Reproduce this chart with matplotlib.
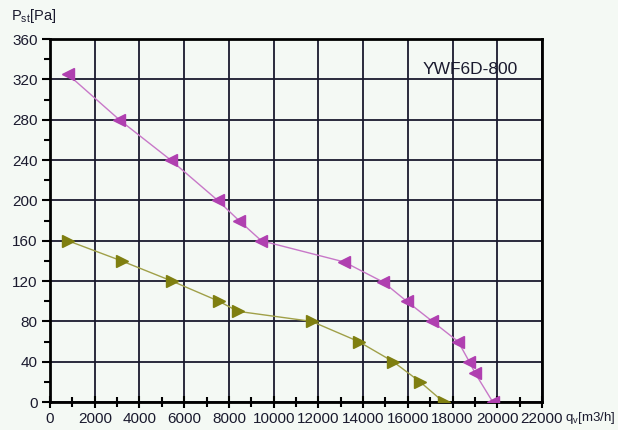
import matplotlib

matplotlib.use("Agg")

import matplotlib.pyplot as plt
from matplotlib.ticker import MultipleLocator

# fan curve data: airflow [m3/h] vs static pressure [Pa]
HIGH_Q = [800, 3100, 5400, 7500, 8450, 9450, 13150, 14900, 15950, 17100, 18250, 18750, 19000, 19800]
HIGH_P = [325, 280, 240, 200, 180, 160, 139, 119, 100, 80, 60, 40, 29, 0]
LOW_Q = [800, 3200, 5450, 7550, 8400, 11700, 13800, 15350, 16550, 17600]
LOW_P = [160, 140, 120, 100, 90, 80, 60, 40, 20, 0]
X_TICKS = list(range(0, 22001, 2000))
Y_TICKS = list(range(0, 361, 40))
MODEL = "YWF6D-800"

BG = "#f4f9f4"
GRID = "#1a1a2e"
TEXT = "#1a1a2e"

plt.rcParams["font.family"] = ["Liberation Sans", "DejaVu Sans"]

fig = plt.figure(figsize=(6.18, 4.30), dpi=100, facecolor=BG)
ax = fig.add_axes([0.081, 0.065, 0.796, 0.844], facecolor=BG)

ax.plot(HIGH_Q, HIGH_P, color="#c878c8", linewidth=1.0, marker="<",
        markersize=8, markerfacecolor="#b040b0", markeredgecolor="#b040b0", zorder=3)
ax.plot(LOW_Q, LOW_P, color="#a0a048", linewidth=1.0, marker=">",
        markersize=8, markerfacecolor="#7f7f10", markeredgecolor="#7f7f10", zorder=3)

ax.set_xlim(0, 22000)
ax.set_ylim(0, 360)
ax.set_xticks(X_TICKS)
ax.set_yticks(Y_TICKS)
ax.xaxis.set_minor_locator(MultipleLocator(1000))
ax.yaxis.set_minor_locator(MultipleLocator(20))
ax.grid(True, which="major", color=GRID, linewidth=1.3)
ax.set_axisbelow(True)

for side in ("left", "bottom", "right", "top"):
    ax.spines[side].set_linewidth(2.0)
    ax.spines[side].set_color("black")

ax.tick_params(axis="both", which="major", direction="out", length=6, width=1.5,
               labelsize=11, labelcolor=TEXT, pad=3)
ax.tick_params(axis="x", which="both", direction="inout", length=8, width=1.5)
ax.tick_params(axis="y", which="minor", direction="out", length=4, width=1.5)
ax.tick_params(axis="x", which="minor", length=7)

ax.text(0.854, 0.915, MODEL, transform=ax.transAxes, ha="center", va="center",
        fontsize=12.5, color=TEXT)

fig.text(0.018, 0.962, r"P$_{\mathregular{st}}$[Pa]", fontsize=10.5, color=TEXT,
         ha="left", va="center")
fig.text(0.915, 0.028, r"q$_{\mathregular{v}}$[m3/h]", fontsize=9.5, color=TEXT,
         ha="left", va="center")

fig.savefig("out.png", dpi=100, facecolor=BG)
